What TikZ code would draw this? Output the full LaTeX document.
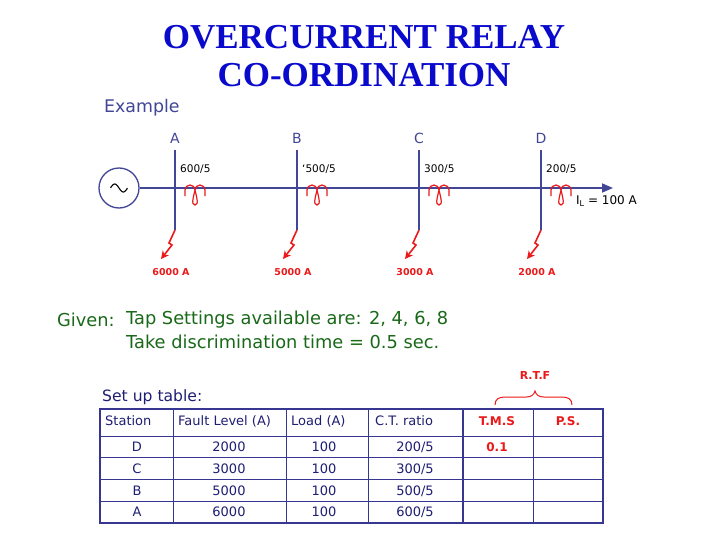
\documentclass[tikz,border=0pt]{standalone}
\usepackage{fontspec}
\setmainfont{Liberation Serif}
\setsansfont{DejaVu Sans}
\usetikzlibrary{arrows.meta}
\definecolor{titleblue}{RGB}{10,10,205}
\definecolor{busblue}{RGB}{65,70,150}
\definecolor{faultred}{RGB}{235,25,25}
\definecolor{givengreen}{RGB}{25,105,25}
\definecolor{tabblue}{RGB}{30,30,115}
\definecolor{tabline}{RGB}{55,55,145}
\tikzset{
  titletext/.style={font=\fontsize{35}{40}\selectfont\bfseries, text=titleblue, inner sep=0pt},
  bus/.style={draw=busblue, line width=1.6pt},
  buslabel/.style={font=\sffamily\fontsize{14}{16}\selectfont, text=busblue, inner sep=0pt},
  ctlabel/.style={font=\sffamily\fontsize{10.5}{12}\selectfont, text=black, inner sep=0pt, anchor=west},
  ctpath/.style={draw=faultred, line width=1.2pt},
  fault/.style={draw=faultred, line width=1.6pt, -{Stealth[length=8pt,width=8pt]}},
  faultlabel/.style={font=\sffamily\bfseries\fontsize{9.5}{11}\selectfont, text=faultred, inner sep=0pt},
  giventext/.style={font=\sffamily\fontsize{17.8}{21}\selectfont, text=givengreen, inner sep=0pt, anchor=west},
  headtext/.style={font=\sffamily\fontsize{13}{15}\selectfont, text=tabblue, inner sep=0pt},
  celltext/.style={font=\sffamily\fontsize{13}{15}\selectfont, text=tabblue, inner sep=0pt},
  redcell/.style={font=\sffamily\bfseries\fontsize{12}{14}\selectfont, text=faultred, inner sep=0pt},
  thinrule/.style={draw=tabline, line width=0.9pt},
  thickrule/.style={draw=tabline, line width=2pt},
  ctcoil/.pic={
    \draw[ctpath] (-10,7) -- (-10,1) arc(180:360:5)
      .. controls (1,6) and (4.5,16) .. (0,16)
      .. controls (-4.5,16) and (-1,6) .. (0,1)
      arc(180:360:5) -- (10,7);
  }
}
\begin{document}
\begin{tikzpicture}[x=1pt,y=-1pt]
\useasboundingbox[fill=white] (0,0) rectangle (728,546);

% Title
\node[titletext] (title1) at (364,37) {OVERCURRENT RELAY};
\node[titletext] (title2) at (364,75) {CO-ORDINATION};

\node[font=\sffamily\fontsize{17.4}{20}\selectfont, text=busblue, inner sep=0pt, anchor=west] (example) at (104,108) {Example};

% generator
\node[draw=busblue, line width=1.3pt, circle, minimum size=40pt, inner sep=0pt] (gen) at (119,188) {};
\draw[draw=black, line width=1.1pt, domain=-8.5:8.5, samples=40, smooth] plot ({119+\x},{188+4*sin(\x*21)});

\coordinate (load) at (613,188);
\draw[bus, -{Triangle[length=11pt,width=9pt]}] (gen.east) -- (load);

% buses
\foreach \n/\x/\ct/\fl in {A/175/600\slash5/6000 A, B/297/`500\slash5/5000 A, C/419/300\slash5/3000 A, D/541/200\slash5/2000 A}{
  \coordinate (top\n) at (\x,150);
  \coordinate (bot\n) at (\x,230);
  \draw[bus] (top\n) -- (bot\n);
  \node[buslabel] (lab\n) at (\x,138) {\n};
  \pic at (\x+20,189) {ctcoil};
  \node[ctlabel] (ct\n) at (\x+5,169) {\ct};
  \draw[fault] (bot\n) -- ++(-6,13) -- ++(3,2) -- ++(-11,14);
  \node[faultlabel] (fl\n) at (\x-4,272) {\fl};
}

\node[font=\sffamily\fontsize{12}{14}\selectfont, inner sep=0pt, anchor=west] (il) at (576,201) {I\raisebox{-2.5pt}{\fontsize{8}{9}\selectfont L} = 100 A};

% Given
\node[giventext] (given) at (57,320) {Given:};
\node[giventext] (tap) at (126,320) {Tap Settings available are: 2, 4, 6, 8};
\node[giventext] (take) at (126,342) {Take discrimination time = 0.5 sec.};

% Set up table
\node[font=\sffamily\fontsize{15.6}{18}\selectfont, text=tabblue, inner sep=0pt, anchor=west] (setup) at (102,397) {Set up table:};

% R.T.F brace
\node[redcell, font=\sffamily\bfseries\fontsize{11}{13}\selectfont] (rtf) at (535,375) {R.T.F};
\draw[draw=faultred, line width=1pt] (495,405) .. controls (495,399) and (499,397) .. (505,397) -- (526,397)
   .. controls (531,397) and (534,395) .. (535,391) .. controls (536,395) and (539,397) .. (544,397)
   -- (562,397) .. controls (568,397) and (572,399) .. (572,405);

% table grid
\foreach \y in {436,457.7,479.3,501.7}{ \draw[thinrule] (100,\y) -- (603.3,\y); }
\foreach \x in {173.3,286.7,368.3,533.3}{ \draw[thinrule] (\x,409.3) -- (\x,523.3); }
\draw[thickrule, line width=1.6pt] (462.7,409.3) -- (462.7,523.3);
\draw[thickrule] (100,409.3) rectangle (603.3,523.3);

% header
\node[headtext, anchor=west] (hStation) at (105,421) {Station};
\node[headtext, anchor=west] (hFault) at (178,421) {Fault Level (A)};
\node[headtext, anchor=west] (hLoad) at (291,421) {Load (A)};
\node[headtext, anchor=west] (hCT) at (375,421) {C.T. ratio};
\node[redcell] (hTMS) at (497,421) {T.M.S};
\node[redcell] (hPS) at (568,421) {P.S.};

% rows
\foreach \r/\y/\s/\f/\c in {1/447/D/2000/200\slash5, 2/469/C/3000/300\slash5, 3/491/B/5000/500\slash5, 4/512/A/6000/600\slash5}{
  \node[celltext] (st\r) at (137,\y) {\s};
  \node[celltext] (fa\r) at (229,\y) {\f};
  \node[celltext] (lo\r) at (324,\y) {100};
  \node[celltext] (ctr\r) at (415,\y) {\c};
}
\node[redcell] (tms1) at (497,447) {0.1};
\end{tikzpicture}
\end{document}
